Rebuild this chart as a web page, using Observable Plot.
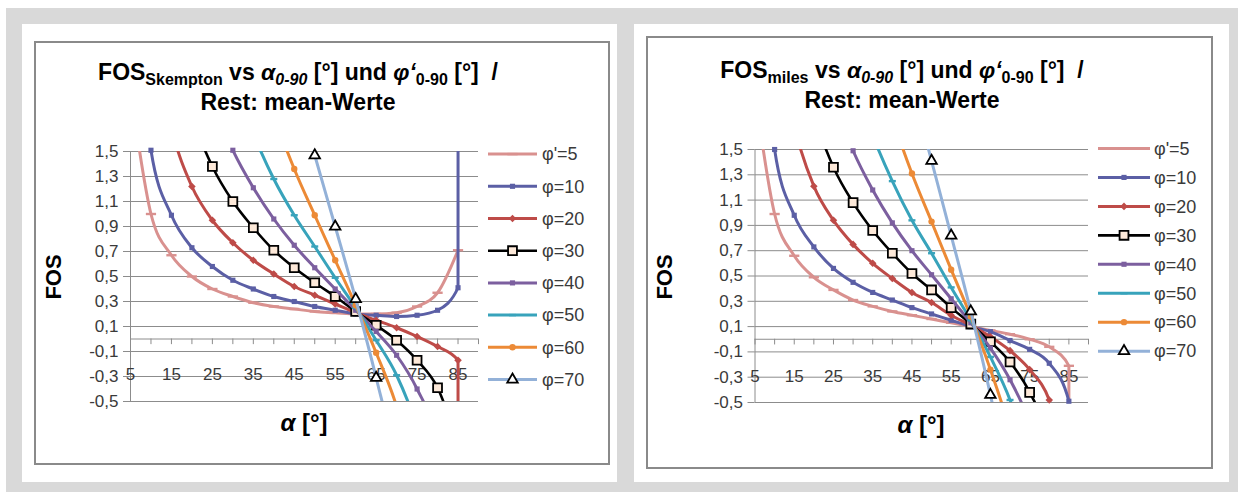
<!DOCTYPE html>
<html><head><meta charset="utf-8">
<script src="https://cdn.jsdelivr.net/npm/d3@7"></script>
<script src="https://cdn.jsdelivr.net/npm/@observablehq/plot@0.6"></script>
<style>
html,body{margin:0;padding:0}
body{width:1238px;height:492px;position:relative;background:#fff;font-family:"Liberation Sans",Arial,sans-serif;overflow:hidden}
.bg{position:absolute;left:6px;top:8px;width:1232px;height:484px;background:#d9d9d9}
.panel{position:absolute;background:#fff;top:24px;width:595px;height:458px}
.frame{position:absolute;border:2px solid #8a8a8a;box-sizing:border-box;background:#fff}
.title{position:absolute;font-weight:bold;font-size:23px;text-align:center;white-space:nowrap;color:#000;line-height:30px;transform:translateX(-50%)}
.title sub{font-size:16px;vertical-align:-5px;line-height:0}
.ylab{position:absolute;font-weight:bold;font-size:22px;transform:translate(-50%,-50%) rotate(-90deg);white-space:nowrap}
.xlab{position:absolute;font-weight:bold;font-size:24px;transform:translate(-50%,-50%);white-space:nowrap}
.chart{position:absolute}
.legend{position:absolute}
</style>
</head><body>
<div class="bg"></div>
<div class="panel" style="left:22px"></div>
<div class="panel" style="left:634px"></div>
<div class="frame" style="left:34px;top:41px;width:576px;height:424px"></div>
<div class="frame" style="left:646px;top:36px;width:567px;height:433px"></div>
<div class="title" style="left:298px;top:57px">FOS<sub>Skempton</sub> vs <i>α<sub>0-90</sub></i> [°] und <i>φ‘</i><sub>0-90</sub> [°]&nbsp; /<br>Rest: mean-Werte</div>
<div class="title" style="left:902px;top:55px">FOS<sub>miles</sub> vs <i>α<sub>0-90</sub></i> [°] und <i>φ‘</i><sub>0-90</sub> [°]&nbsp; /<br>Rest: mean-Werte</div>
<div class="ylab" style="left:54px;top:277px">FOS</div>
<div class="ylab" style="left:665px;top:277px">FOS</div>
<div class="xlab" style="left:304px;top:423px"><i>α</i> [°]</div>
<div class="xlab" style="left:921px;top:425px"><i>α</i> [°]</div>
<div id="c1" class="chart" style="left:34px;top:41px"></div>
<div id="c2" class="chart" style="left:646px;top:36px"></div>
<div id="l1" class="legend" style="left:480px;top:138px"></div>
<div id="l2" class="legend" style="left:1090px;top:134px"></div>
<script>
// ---- data ----
const alpha = [5,10,15,20,25,30,35,40,45,50,55,60,65,70,75,80,85,90];
const seriesNames = ["φ'=5","φ=10","φ=20","φ=30","φ=40","φ=50","φ=60","φ=70"];
const yTickValues = [-0.5,-0.3,-0.1,0.1,0.3,0.5,0.7,0.9,1.1,1.3,1.5];
const xTickValues = [5,10,15,20,25,30,35,40,45,50,55,60,65,70,75,80,85,90];
const xLabelValues = [5,15,25,35,45,55,65,75,85];

// FOS Skempton
const skPhi5  = [2.00,1.00,0.67,0.50,0.40,0.34,0.29,0.26,0.24,0.22,0.21,0.20,0.20,0.21,0.26,0.37,0.71,null];
const skPhi10 = [3.04,1.51,0.99,0.73,0.58,0.47,0.40,0.34,0.30,0.26,0.23,0.20,0.19,0.18,0.19,0.23,0.41,1000];
const skPhi20 = [5.24,2.57,1.69,1.22,0.95,0.77,0.63,0.52,0.42,0.35,0.28,0.21,0.15,0.09,0.02,-0.06,-0.17,-1000];
const skPhi30 = [7.74,3.79,2.48,1.79,1.38,1.10,0.89,0.71,0.57,0.45,0.34,0.22,0.11,-0.01,-0.17,-0.39,-0.84,null];
const skPhi40 = [10.8,5.28,3.45,2.48,1.90,1.51,1.21,0.96,0.75,0.57,0.40,0.23,0.06,-0.13,-0.40,-0.80,-1.66,null];
const skPhi50 = [14.9,7.29,4.76,3.41,2.61,2.06,1.64,1.28,0.99,0.74,0.49,0.25,-0.01,-0.29,-0.71,-1.35,-2.77,null];
const skPhi60 = [21.3,10.4,6.77,4.84,3.69,2.90,2.29,1.79,1.36,0.99,0.63,0.27,-0.11,-0.54,-1.18,-2.18,-4.48,null];
const skPhi70 = [33.1,16.2,10.5,7.52,5.72,4.49,3.53,2.73,2.05,1.47,0.90,0.32,-0.31,-1.02,-2.08,-3.76,-7.67,null];

// FOS Miles
const miPhi5  = [1.95,0.99,0.66,0.49,0.39,0.31,0.26,0.22,0.19,0.16,0.13,0.10,0.07,0.04,0.00,-0.06,-0.21,-1000];
const miPhi10 = [3.04,1.50,0.98,0.73,0.56,0.45,0.37,0.31,0.25,0.20,0.15,0.10,0.06,-0.01,-0.08,-0.19,-0.49,-1000];
const miPhi20 = [5.20,2.56,1.69,1.21,0.94,0.75,0.60,0.48,0.37,0.29,0.19,0.11,0.02,-0.09,-0.24,-0.48,-1.08,null];
const miPhi30 = [7.70,3.78,2.48,1.78,1.36,1.08,0.86,0.68,0.52,0.39,0.25,0.12,-0.02,-0.18,-0.42,-0.81,-1.75,null];
const miPhi40 = [10.8,5.27,3.45,2.48,1.89,1.49,1.18,0.92,0.70,0.51,0.32,0.13,-0.07,-0.32,-0.66,-1.22,-2.60,null];
const miPhi50 = [14.9,7.30,4.76,3.41,2.59,2.04,1.61,1.25,0.94,0.68,0.41,0.15,-0.14,-0.48,-0.97,-1.77,-3.68,null];
const miPhi60 = [21.2,10.4,6.77,4.83,3.67,2.88,2.26,1.75,1.31,0.93,0.55,0.18,-0.24,-0.73,-1.44,-2.60,-5.40,null];
const miPhi70 = [33.0,16.2,10.5,7.50,5.70,4.47,3.50,2.69,2.00,1.41,0.82,0.22,-0.44,-1.20,-2.34,-4.20,-8.60,null];

// ---- styles ----
const dash = {draw(ctx, size){ const w = Math.sqrt(size)*0.9; ctx.rect(-w, -1.2, 2*w, 2.4); }};
const styles = [
  {color:"#d9918f", symbol:dash, r:3.2, fill:"#d9918f", stroke:"none", sw:3},
  {color:"#5b5fa5", symbol:"square", r:2.9, fill:"#5b5fa5", stroke:"none", sw:3},
  {color:"#be4b48", symbol:"diamond2", r:3.4, fill:"#be4b48", stroke:"none", sw:3},
  {color:"#000000", symbol:"square", r:5.0, fill:"#fde9d9", stroke:"#000", sw:2.6},
  {color:"#7c5f9f", symbol:"square", r:2.9, fill:"#7c5f9f", stroke:"none", sw:3},
  {color:"#38a3bb", symbol:dash, r:2.2, fill:"#38a3bb", stroke:"none", sw:3},
  {color:"#ec8a36", symbol:"circle", r:3.2, fill:"#ec8a36", stroke:"none", sw:3},
  {color:"#93b1d8", symbol:"triangle", r:3.9, fill:"#ffffff", stroke:"#000", sw:3}
];

function makeChart(el, values, o){
  const rows = [];
  values.forEach((arr, i) => arr.forEach((v, j) => { if (v != null) rows.push({s:i, a:alpha[j], v}); }));
  const marks = [
    Plot.ruleY(yTickValues, {stroke:"#8c8c8c", strokeWidth:1}),
    Plot.axisY({ticks:yTickValues, tickFormat:d => d.toFixed(1).replace(".", ","), tickSize:7, tickPadding:5, stroke:"#8c8c8c", fill:"#3a3a3a", label:null, fontSize:17}),
    Plot.ruleX([5], {stroke:"#8c8c8c", strokeWidth:1}),
    Plot.ruleY([0], {stroke:"#8c8c8c", strokeWidth:1}),
    Plot.ruleX(xTickValues, {x:d => d, y1:0, y2:-0.045, stroke:"#8c8c8c"}),
    Plot.text(xLabelValues, {x:d => d, y:0, dy:o.labelDy, text:d => String(d), fontSize:17, fill:"#3a3a3a"})
  ];
  styles.forEach((st, i) => {
    const d = rows.filter(r => r.s === i);
    marks.push(Plot.line(d, {x:"a", y:"v", stroke:st.color, strokeWidth:st.sw, curve:"monotone-x", clip:true}));
    marks.push(Plot.dot(d.filter(r => r.v >= -0.52 && r.v <= 1.52), {x:"a", y:"v", symbol:st.symbol, r:st.r, fill:st.fill, stroke:st.stroke, strokeWidth:st.stroke === "none" ? 0 : 1.8}));
  });
  const svg = Plot.plot({
    width:o.width, height:o.height,
    marginLeft:o.ml, marginRight:o.mr, marginTop:o.mt, marginBottom:o.mb,
    x:{type:"linear", domain:[5,90], axis:null},
    y:{type:"linear", domain:[-0.5,1.5], axis:null},
    style:{background:"transparent", fontFamily:"'Liberation Sans', Arial, sans-serif", overflow:"visible"},
    marks
  });
  el.appendChild(svg);
}

function makeLegend(el, gap, swW, textX){
  const h = gap*8;
  const svg = d3.create("svg").attr("width", 130).attr("height", h).style("overflow","visible");
  styles.forEach((st, i) => {
    const y = gap*i + gap/2;
    const g = svg.append("g").attr("transform", `translate(0,${y})`);
    g.append("line").attr("x1", 8).attr("x2", 8+swW).attr("y1", 0).attr("y2", 0).attr("stroke", st.color).attr("stroke-width", st.sw);
    const sym = typeof st.symbol === "string" ? ({square:d3.symbolSquare, diamond2:d3.symbolDiamond2, circle:d3.symbolCircle, triangle:d3.symbolTriangle})[st.symbol] : st.symbol;
    g.append("path").attr("transform", `translate(${8+swW/2},0)`).attr("d", d3.symbol(sym, Math.PI*st.r*st.r)())
      .attr("fill", st.fill).attr("stroke", st.stroke === "none" ? null : st.stroke).attr("stroke-width", 1.8);
    g.append("text").attr("x", textX).attr("y", 0).attr("dy", "0.35em").attr("font-size", 18)
      .attr("font-family", "'Liberation Sans', Arial, sans-serif").attr("fill", "#3a3a3a").text(seriesNames[i]);
  });
  el.appendChild(svg.node());
}

makeChart(document.getElementById("c1"),
  [skPhi5, skPhi10, skPhi20, skPhi30, skPhi40, skPhi50, skPhi60, skPhi70],
  {width:576, height:424, ml:96, mr:132, mt:110, mb:64, labelDy:36});
makeChart(document.getElementById("c2"),
  [miPhi5, miPhi10, miPhi20, miPhi30, miPhi40, miPhi50, miPhi60, miPhi70],
  {width:567, height:433, ml:108.5, mr:125, mt:113, mb:67, labelDy:37});
makeLegend(document.getElementById("l1"), 32.2, 49, 62);
makeLegend(document.getElementById("l2"), 28.95, 52, 64);
</script>
</body></html>
